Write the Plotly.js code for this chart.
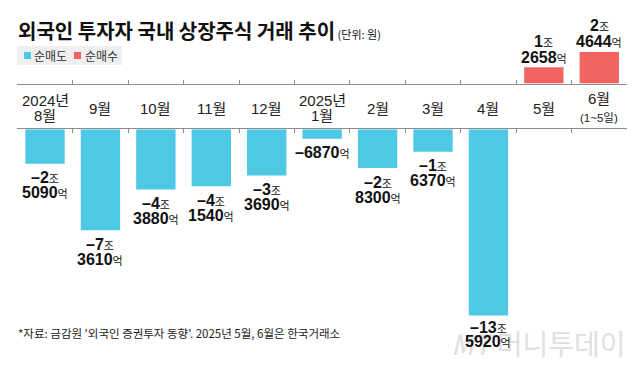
<!DOCTYPE html>
<html>
<head>
<meta charset="utf-8">
<script src="https://cdn.plot.ly/plotly-3.0.1.min.js"></script>
<style>html,body{margin:0;padding:0;background:#fff;}#chart{width:640px;height:370px;}</style>
</head>
<body>
<div id="chart"></div>
<script>
// Data (unit: 억원)
const months = ['2024년 8월','9월','10월','11월','12월','2025년 1월','2월','3월','4월','5월','6월'];
const monthLine1 = ['2024년','9월','10월','11월','12월','2025년','2월','3월','4월','5월','6월'];
const monthLine2 = ['8월','','','','','1월','','','','','(1~5일)'];
const netFlow = [-25090,-73610,-43880,-41540,-33690,-6870,-28300,-16370,-135920,12658,24644];
const legendNames = ['순매도','순매수'];
const titleText = '외국인 투자자 국내 상장주식 거래 추이';
const unitText = '(단위: 원)';
const sourceText = "*자료: 금감원 '외국인 증권투자 동향'. 2025년 5월, 6월은 한국거래소";

const W = 640, H = 370;
const py = px => 1 - px / H;
const px2x = px => px / W;
const BLUE = '#4DC9E6', RED = '#F26462';
const NUM = 'Liberation Sans Narrow, Liberation Sans, Noto Sans CJK KR, sans-serif';
const KR = 'Noto Sans CJK KR, Noto Sans, sans-serif';

const sell = netFlow.map(v => v < 0 ? v : null);
const buy = netFlow.map(v => v > 0 ? v : null);

const traces = [
  {type:'bar', x: months, y: sell, xaxis:'x', yaxis:'y', name: legendNames[0],
   marker:{color: BLUE}, hoverinfo:'skip', showlegend:false},
  {type:'bar', x: months, y: buy, xaxis:'x2', yaxis:'y2', name: legendNames[1],
   marker:{color: RED}, hoverinfo:'skip', showlegend:false}
];

const ann = [];
// watermark
ann.push({xref:'paper', yref:'paper', x: px2x(628), y: py(343), xanchor:'right', yanchor:'middle',
  text:'<i>MT</i> 머니투데이', showarrow:false, font:{family:KR, size:28, color:'#e0e0e0'}});

// title
ann.push({xref:'paper', yref:'paper', x: px2x(16), y: py(30), xanchor:'left', yanchor:'middle',
  text:'<b>'+titleText+'</b><span style="font-size:11px;font-weight:normal"> '+unitText+'</span>',
  showarrow:false, font:{family:KR, size:20, color:'#111'}});

// legend labels
ann.push({xref:'paper', yref:'paper', x: px2x(32), y: py(55.5), xanchor:'left', yanchor:'middle',
  text: legendNames[0], showarrow:false, font:{family:KR, size:12, color:'#333'}});
ann.push({xref:'paper', yref:'paper', x: px2x(83), y: py(55.5), xanchor:'left', yanchor:'middle',
  text: legendNames[1], showarrow:false, font:{family:KR, size:12, color:'#333'}});

// source
ann.push({xref:'paper', yref:'paper', x: px2x(16), y: py(333), xanchor:'left', yanchor:'middle',
  text: sourceText, showarrow:false, font:{family:KR, size:11.5, color:'#222'}});

// category labels
months.forEach((m, i) => {
  if (monthLine2[i]) {
    const small = monthLine2[i].startsWith('(');
    ann.push({xref:'x', yref:'paper', x: m, y: py(small ? 99 : 100.5), yanchor:'middle', showarrow:false,
      text: monthLine1[i], font:{family:NUM, size:15, color:'#222'}});
    ann.push({xref:'x', yref:'paper', x: m, y: py(small ? 117 : 115.5), yanchor:'middle', showarrow:false,
      text: monthLine2[i], font:{family:NUM, size: small ? 11.5 : 15, color:'#222'}});
  } else {
    ann.push({xref:'x', yref:'paper', x: m, y: py(108.5), yanchor:'middle', showarrow:false,
      text: monthLine1[i], font:{family:NUM, size:15, color:'#222'}});
  }
});

// value labels
const unitSpan = u => '<span style="font-size:11px;font-weight:normal">'+u+'</span>';
netFlow.forEach((v, i) => {
  const a = Math.abs(v);
  const jo = Math.floor(a / 10000);
  const eok = a % 10000;
  const sign = v < 0 ? '–' : '';
  const neg = v < 0;
  const yref = neg ? 'y' : 'y2';
  const lines = [];
  if (jo > 0) {
    lines.push('<b>'+sign+jo+'</b>'+unitSpan('조'));
    lines.push('<b>'+eok+'</b>'+unitSpan('억'));
  } else {
    lines.push('<b>'+sign+eok+'</b>'+unitSpan('억'));
  }
  const tight = a > 100000;
  const shifts = neg ? (tight ? [-12, -26] : [-14, -29]) : (lines.length === 2 ? [26, 10] : [10]);
  lines.forEach((t, k) => {
    ann.push({xref:'x', yref: yref, x: months[i], y: v, yanchor:'middle', showarrow:false,
      yshift: shifts[k], text: t, font:{family:NUM, size:16, color:'#111'}});
  });
});

const shapes = [
  {type:'rect', xref:'paper', yref:'paper', x0:px2x(17), x1:px2x(122), y0:py(65), y1:py(46),
   fillcolor:'#efefef', line:{width:0}, layer:'below'},
  {type:'rect', xref:'paper', yref:'paper', x0:px2x(24), x1:px2x(31), y0:py(59), y1:py(52),
   fillcolor:BLUE, line:{width:0}},
  {type:'rect', xref:'paper', yref:'paper', x0:px2x(74), x1:px2x(81), y0:py(59), y1:py(52),
   fillcolor:RED, line:{width:0}}
];

const axisCommon = {
  type:'category', domain:[px2x(17.3), px2x(627)], range:[-0.5, 10.5],
  showline:true, linecolor:'#8c8c8c', linewidth:1,
  ticks:'inside', tickson:'boundaries', ticklen:4, tickcolor:'#8c8c8c', tickwidth:1,
  showticklabels:false, showgrid:false, zeroline:false, fixedrange:true
};

const layout = {
  width:W, height:H, margin:{l:0, r:0, t:0, b:0},
  paper_bgcolor:'#fff', plot_bgcolor:'rgba(0,0,0,0)',
  bargap:0.29, showlegend:false,
  xaxis: Object.assign({}, axisCommon, {anchor:'y', side:'top'}),
  xaxis2: Object.assign({}, axisCommon, {anchor:'y2', side:'bottom', matches:'x'}),
  yaxis: {domain:[py(330), py(129.3)], range:[-146500, 0], visible:false, fixedrange:true},
  yaxis2: {domain:[py(83.5), py(40)], range:[0, 34000], visible:false, fixedrange:true},
  annotations: ann, shapes: shapes
};

Plotly.newPlot('chart', traces, layout, {staticPlot:true, displayModeBar:false});
</script>
</body>
</html>
